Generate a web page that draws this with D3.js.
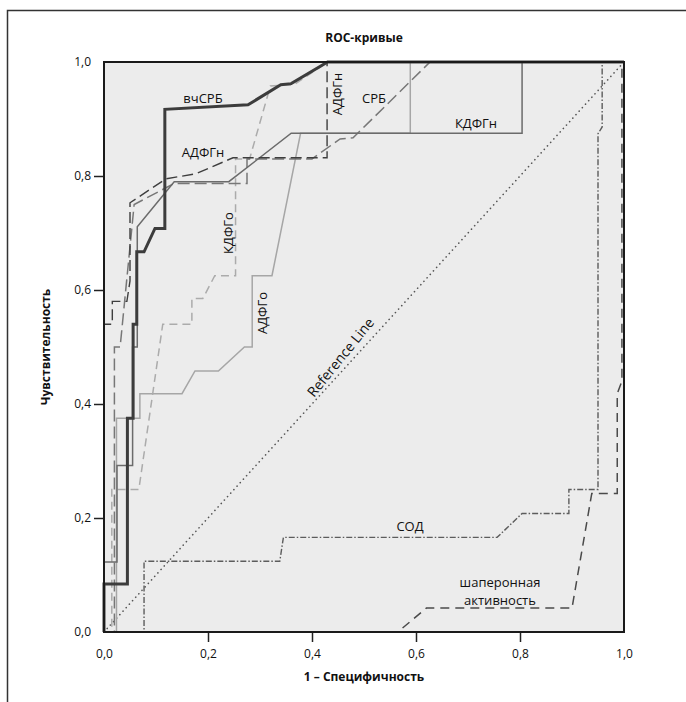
<!DOCTYPE html>
<html>
<head>
<meta charset="utf-8">
<script src="https://cdn.jsdelivr.net/npm/d3@7"></script>
<style>
  body { margin: 0; background: #fff; }
  svg text { font-family: "Open Sans", "Noto Sans", sans-serif; fill: #111; }
</style>
</head>
<body>
<div id="chart"></div>
<script>
// ROC curves (x = 1 - specificity, y = sensitivity)
const vchSRB_x = [0, 0, 0.045, 0.045, 0.056, 0.056, 0.063, 0.063, 0.077, 0.098, 0.117, 0.117, 0.277, 0.34, 0.36, 0.43, 1];
const vchSRB_y = [0, 0.084, 0.084, 0.375, 0.375, 0.54, 0.54, 0.667, 0.667, 0.708, 0.708, 0.917, 0.925, 0.96, 0.962, 1, 1];

const kdfgn_x = [0, 0, 0.025, 0.025, 0.055, 0.055, 0.064, 0.064, 0.135, 0.24, 0.36, 0.804, 0.804, 1];
const kdfgn_y = [0, 0.123, 0.123, 0.292, 0.292, 0.5, 0.5, 0.711, 0.79, 0.79, 0.875, 0.875, 1, 1];

const adfgo_x = [0, 0.024, 0.024, 0.069, 0.069, 0.15, 0.175, 0.22, 0.27, 0.285, 0.285, 0.323, 0.378, 0.589, 0.589, 1];
const adfgo_y = [0, 0, 0.375, 0.375, 0.418, 0.418, 0.458, 0.458, 0.5, 0.5, 0.625, 0.625, 0.875, 0.875, 1, 1];

const kdfgo_x = [0, 0.015, 0.015, 0.067, 0.113, 0.169, 0.169, 0.19, 0.213, 0.253, 0.253, 0.28, 0.32, 0.365, 0.43, 1];
const kdfgo_y = [0, 0, 0.25, 0.25, 0.54, 0.54, 0.585, 0.585, 0.625, 0.625, 0.83, 0.83, 0.958, 0.96, 1, 1];

const srb_x = [0, 0.02, 0.02, 0.031, 0.058, 0.135, 0.275, 0.275, 0.4, 0.454, 0.479, 0.627, 1];
const srb_y = [0, 0, 0.5, 0.5, 0.75, 0.787, 0.787, 0.83, 0.83, 0.865, 0.867, 1, 1];

const adfgn_x = [0, 0, 0.016, 0.016, 0.044, 0.05, 0.05, 0.119, 0.177, 0.248, 0.429, 0.429, 1];
const adfgn_y = [0, 0.54, 0.54, 0.58, 0.58, 0.616, 0.753, 0.795, 0.804, 0.832, 0.832, 1, 1];

const sod_x = [0, 0.077, 0.077, 0.338, 0.345, 0.756, 0.804, 0.894, 0.894, 0.95, 0.95, 0.958, 0.958, 1];
const sod_y = [0, 0, 0.124, 0.124, 0.166, 0.166, 0.208, 0.208, 0.25, 0.25, 0.874, 0.886, 1, 1];

const chap_x = [0, 0.565, 0.62, 0.9, 0.938, 0.987, 0.987, 0.996, 0.996, 1];
const chap_y = [0, 0, 0.042, 0.042, 0.243, 0.243, 0.418, 0.44, 1, 1];

const ref_x = [0, 1];
const ref_y = [0, 1];

const xTicks = [0, 0.2, 0.4, 0.6, 0.8, 1.0];
const yTicks = [0, 0.2, 0.4, 0.6, 0.8, 1.0];

const width = 686, height = 702;
const margin = {left: 104, right: 62, top: 62, bottom: 70};

const svg = d3.select("#chart").append("svg")
    .attr("width", width)
    .attr("height", height);

// outer frame (only left and top edges show)
svg.append("path")
    .attr("d", `M7.5,${height} V10.5 H${width}`)
    .attr("fill", "none")
    .attr("stroke", "#333")
    .attr("stroke-width", 1.5);

const x = d3.scaleLinear().domain([0, 1]).range([margin.left, width - margin.right]);
const y = d3.scaleLinear().domain([0, 1]).range([height - margin.bottom, margin.top]);

svg.append("rect")
    .attr("x", x(0)).attr("y", y(1))
    .attr("width", x(1) - x(0)).attr("height", y(0) - y(1))
    .attr("fill", "#ececec");

const fmt = d => d3.format(".1f")(d).replace(".", ",");

const line = d3.line().x(d => x(d[0])).y(d => y(d[1]));
const pts = (xs, ys) => xs.map((v, i) => [v, ys[i]]);

const curves = [
    {xs: ref_x, ys: ref_y, color: "#555", w: 1.6, dash: "0.1,4.6", cap: "round"},
    {xs: chap_x, ys: chap_y, color: "#4a4a4a", w: 1.5, dash: "9,6"},
    {xs: sod_x, ys: sod_y, color: "#5c5c5c", w: 1.4, dash: "6,2,1.5,2"},
    {xs: adfgo_x, ys: adfgo_y, color: "#a6a6a6", w: 1.5, dash: null},
    {xs: kdfgo_x, ys: kdfgo_y, color: "#ababab", w: 1.5, dash: "8,5"},
    {xs: srb_x, ys: srb_y, color: "#777", w: 1.5, dash: "12,5"},
    {xs: kdfgn_x, ys: kdfgn_y, color: "#6b6b6b", w: 1.5, dash: null},
    {xs: adfgn_x, ys: adfgn_y, color: "#3e3e3e", w: 1.4, dash: "11,5"},
    {xs: vchSRB_x, ys: vchSRB_y, color: "#3c3c3c", w: 3, dash: null}
];

svg.append("g").selectAll("path")
    .data(curves)
    .join("path")
    .attr("d", c => line(pts(c.xs, c.ys)))
    .attr("fill", "none")
    .attr("stroke", c => c.color)
    .attr("stroke-width", c => c.w)
    .attr("stroke-dasharray", c => c.dash)
    .attr("stroke-linecap", c => c.cap || "butt");

// curve labels
const lbl = svg.append("g").style("font-size", "13px");
lbl.append("text").attr("x", 203).attr("y", 103).attr("text-anchor", "middle").text("вчСРБ");
lbl.append("text").attr("x", 203).attr("y", 157).attr("text-anchor", "middle").text("АДФГн");
lbl.append("text").attr("x", 374).attr("y", 103).attr("text-anchor", "middle").text("СРБ");
lbl.append("text").attr("x", 476).attr("y", 128).attr("text-anchor", "middle").text("КДФГн");
lbl.append("text").attr("transform", "translate(342,94) rotate(-90)").attr("text-anchor", "middle").text("АДФГн");
lbl.append("text").attr("transform", "translate(233,233) rotate(-90)").attr("text-anchor", "middle").text("КДФГо");
lbl.append("text").attr("transform", "translate(267,313) rotate(-90)").attr("text-anchor", "middle").text("АДФГо");
lbl.append("text").attr("transform", "translate(314,398) rotate(-51)").style("font-size", "14px").text("Reference Line");
lbl.append("text").attr("x", 410).attr("y", 531).attr("text-anchor", "middle").text("СОД");
lbl.append("text").attr("x", 500).attr("y", 587).attr("text-anchor", "middle").text("шаперонная");
lbl.append("text").attr("x", 500).attr("y", 605).attr("text-anchor", "middle").text("активность");

// axes
const xAxis = svg.append("g")
    .attr("transform", `translate(0,${y(0)})`)
    .call(d3.axisBottom(x).tickValues(xTicks).tickFormat(fmt).tickSize(10).tickSizeOuter(0));
const yAxis = svg.append("g")
    .attr("transform", `translate(${x(0)},0)`)
    .call(d3.axisLeft(y).tickValues(yTicks).tickFormat(fmt).tickSize(10).tickSizeOuter(0));

[xAxis, yAxis].forEach(a => {
    a.select(".domain").remove();
    a.selectAll(".tick line").attr("stroke", "#222").attr("stroke-width", 1.5)
        .filter(d => d === 0 || d === 1).remove();
    a.selectAll(".tick text").style("font-size", "12px").attr("fill", "#111");
});
xAxis.selectAll(".tick text").attr("dy", "1.05em");
yAxis.selectAll(".tick text").attr("x", -13);

// plot border
svg.append("rect")
    .attr("x", x(0)).attr("y", y(1))
    .attr("width", x(1) - x(0)).attr("height", y(0) - y(1))
    .attr("fill", "none")
    .attr("stroke", "#1a1a1a")
    .attr("stroke-width", 2);

svg.append("text")
    .attr("x", (x(0) + x(1)) / 2).attr("y", 42)
    .attr("text-anchor", "middle")
    .style("font-size", "12px").style("font-weight", "bold")
    .text("ROC-кривые");

svg.append("text")
    .attr("x", (x(0) + x(1)) / 2).attr("y", 681)
    .attr("text-anchor", "middle")
    .style("font-size", "12px").style("font-weight", "bold")
    .text("1 – Специфичность");

svg.append("text")
    .attr("transform", `translate(50,${(y(0) + y(1)) / 2}) rotate(-90)`)
    .attr("text-anchor", "middle")
    .style("font-size", "12px").style("font-weight", "bold")
    .text("Чувствительность");
</script>
</body>
</html>
